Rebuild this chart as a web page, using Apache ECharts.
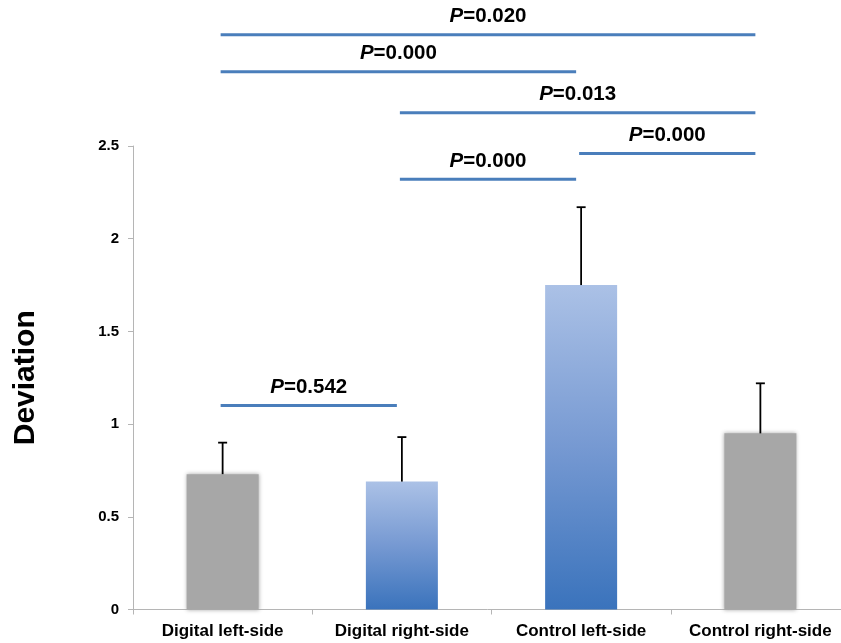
<!DOCTYPE html>
<html>
<head>
<meta charset="utf-8">
<script src="https://cdn.jsdelivr.net/npm/echarts@6/dist/echarts.min.js"></script>
<style>
  html, body { margin: 0; padding: 0; background: #ffffff; }
  #chart { width: 841px; height: 643px; }
</style>
</head>
<body>
<div id="chart"></div>
<script>
// Groups and measured deviation (mean with upper SD whisker)
const categories = ['Digital left-side', 'Digital right-side', 'Control left-side', 'Control right-side'];
const meanValues = [0.73, 0.69, 1.75, 0.95];
const sdValues = [0.17, 0.24, 0.42, 0.27];
const barFills = ['gray', 'blue', 'blue', 'gray'];

// Pairwise comparisons: group indices, bracket height (axis units) and P value
const compareFrom = [0, 0, 1, 2, 1, 0];
const compareTo = [3, 2, 3, 3, 2, 1];
const compareLevel = [3.10, 2.90, 2.68, 2.46, 2.32, 1.10];
const compareP = ['0.020', '0.000', '0.013', '0.000', '0.000', '0.542'];

const FONT = '"Liberation Sans", Arial, Helvetica, sans-serif';

const blueGradient = new echarts.graphic.LinearGradient(0, 0, 0, 1, [
  { offset: 0, color: '#abc1e6' },
  { offset: 0.5, color: '#7699d2' },
  { offset: 1, color: '#3a73bc' }
]);

const barData = meanValues.map((v, i) => ({
  value: v,
  itemStyle: barFills[i] === 'gray'
    ? { color: '#a7a7a7', shadowBlur: 4, shadowColor: 'rgba(160,160,160,0.9)' }
    : { color: blueGradient }
}));

const errorData = meanValues.map((v, i) => [i, v, v + sdValues[i]]);
const compareData = compareFrom.map((f, i) => [f, compareTo[i], compareLevel[i], i]);

const chart = echarts.init(document.getElementById('chart'), null, { renderer: 'canvas' });

chart.setOption({
  animation: false,
  backgroundColor: '#ffffff',
  grid: {
    left: 133, right: -9, top: 146, bottom: 33.5,
    containLabel: false,
    outerBoundsMode: 'none'
  },
  xAxis: {
    type: 'category',
    data: categories,
    boundaryGap: true,
    axisLine: { lineStyle: { color: '#b5b5b5', width: 1 } },
    axisTick: { show: true, alignWithLabel: false, length: 5, lineStyle: { color: '#b5b5b5' } },
    axisLabel: {
      color: '#000000', fontFamily: FONT, fontWeight: 'bold', fontSize: 17,
      margin: 13, interval: 0
    },
    splitLine: { show: false }
  },
  yAxis: {
    type: 'value',
    min: 0, max: 2.5, interval: 0.5,
    name: 'Deviation',
    nameLocation: 'middle',
    nameGap: 92,
    nameRotate: 90,
    nameTextStyle: { color: '#000000', fontFamily: FONT, fontWeight: 'bold', fontSize: 30 },
    axisLine: { show: true, lineStyle: { color: '#b5b5b5', width: 1 } },
    axisTick: { show: true, length: 5, lineStyle: { color: '#b5b5b5' } },
    axisLabel: {
      color: '#000000', fontFamily: FONT, fontWeight: 'bold', fontSize: 15, margin: 14
    },
    splitLine: { show: false }
  },
  series: [
    {
      type: 'bar',
      data: barData,
      barWidth: 72,
      z: 2
    },
    {
      // upper standard-deviation whiskers
      type: 'custom',
      data: errorData,
      encode: { x: 0, y: [1, 2] },
      z: 3,
      renderItem: function (params, api) {
        const base = api.coord([api.value(0), api.value(1)]);
        const top = api.coord([api.value(0), api.value(2)]);
        const half = 4.5;
        const style = { stroke: '#000000', lineWidth: 1.8 };
        return {
          type: 'group',
          children: [
            { type: 'line', shape: { x1: base[0], y1: base[1], x2: top[0], y2: top[1] }, style: style },
            { type: 'line', shape: { x1: top[0] - half, y1: top[1], x2: top[0] + half, y2: top[1] }, style: style }
          ]
        };
      }
    },
    {
      // significance brackets with P values
      type: 'custom',
      data: compareData,
      encode: { x: [0, 1], y: 2 },
      clip: false,
      z: 4,
      renderItem: function (params, api) {
        const a = api.coord([api.value(0), api.value(2)]);
        const b = api.coord([api.value(1), api.value(2)]);
        const x1 = a[0] - 2, x2 = b[0] - 5, y = a[1];
        return {
          type: 'group',
          children: [
            {
              type: 'line',
              shape: { x1: x1, y1: y, x2: x2, y2: y },
              style: { stroke: '#4a7ebb', lineWidth: 3 }
            },
            {
              type: 'text',
              x: (x1 + x2) / 2,
              y: y - 18,
              style: {
                text: '{p|P}{v|=' + compareP[api.value(3)] + '}',
                align: 'center',
                verticalAlign: 'middle',
                rich: {
                  p: { fontFamily: FONT, fontWeight: 'bold', fontStyle: 'italic', fontSize: 20.5, fill: '#000000' },
                  v: { fontFamily: FONT, fontWeight: 'bold', fontSize: 20.5, fill: '#000000' }
                }
              }
            }
          ]
        };
      }
    }
  ]
});
</script>
</body>
</html>
